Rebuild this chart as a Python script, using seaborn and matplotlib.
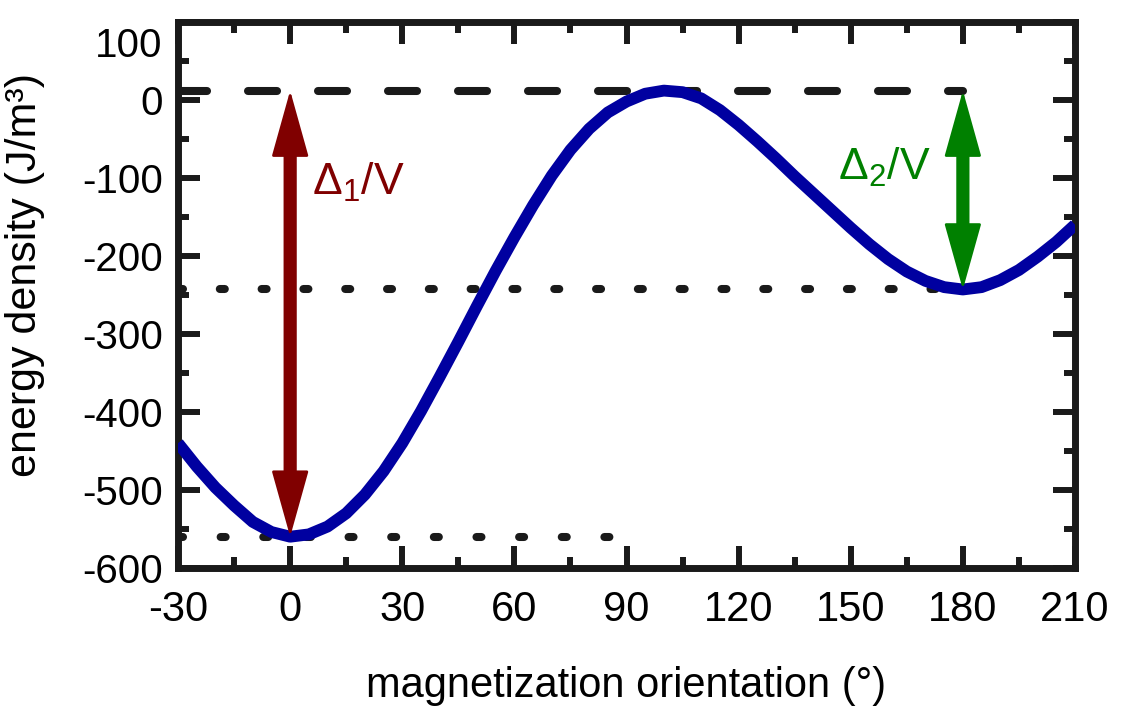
import matplotlib
matplotlib.use('Agg')
import matplotlib.pyplot as plt
import matplotlib.transforms as mtransforms
from matplotlib.patches import FancyArrowPatch
from matplotlib.ticker import MultipleLocator
import pandas as pd
import seaborn as sns

# energy density every 5 degrees
angle = list(range(-30, 215, 5))
energy = [-440, -470, -497, -520, -541, -554, -560, -557, -547, -530,
          -506, -476, -440, -399, -355, -310, -264, -219, -176, -135,
          -97, -64, -37, -16, -2, 8, 12, 10, 2, -13,
          -32, -53, -75, -98, -120, -142, -164, -185, -204, -220,
          -232, -240, -243, -240, -231, -218, -201, -182, -160]

# reference levels
barrier_top = 12
second_min = -243
global_min = -560
min1_angle = 0
min2_angle = 180
line_start = -30
low_dots_end = 87

xticks = list(range(-30, 211, 30))
yticks = list(range(-600, 101, 100))

sns.set_theme(style='ticks')
plt.rcParams['font.family'] = ['Liberation Sans', 'DejaVu Sans']
plt.rcParams['mathtext.fontset'] = 'custom'
plt.rcParams['mathtext.rm'] = 'Liberation Sans'
plt.rcParams['mathtext.default'] = 'regular'
plt.rcParams['lines.scale_dashes'] = False
plt.rcParams['axes.unicode_minus'] = False
for key in ['text.color', 'axes.labelcolor', 'xtick.color', 'ytick.color']:
    plt.rcParams[key] = 'black'

fig = plt.figure(figsize=(11.24, 7.09), dpi=100)
ax = fig.add_axes([0.1584, 0.199, 0.798, 0.770])

df = pd.DataFrame({'angle': angle, 'energy': energy})
sns.lineplot(data=df, x='angle', y='energy', color='#0000a0', lw=8.5, ax=ax,
             zorder=3)
ax.lines[0].set_solid_joinstyle('round')
ax.lines[0].set_solid_capstyle('butt')

# dashed / dotted guide lines
ax.plot([line_start, min2_angle], [barrier_top, barrier_top], color='k',
        lw=5.8, linestyle=(0, (20.9, 29.5)), dash_capstyle='round', zorder=2)
ax.plot([line_start, min2_angle], [second_min, second_min], color='k',
        lw=5.8, linestyle=(0, (3.6, 26.5)), dash_capstyle='round', zorder=2)
ax.plot([line_start, low_dots_end], [global_min, global_min], color='k',
        lw=5.8, linestyle=(0, (3.6, 27.1)), dash_capstyle='round', zorder=2)

# double arrows for the barriers: heads + thick shaft
head = '<|-|>,head_length=43,head_width=12'
for xpos, ylow, col in [(min1_angle, global_min, '#800000'),
                        (min2_angle, second_min, '#008000')]:
    heads = FancyArrowPatch((xpos, ylow), (xpos, barrier_top), arrowstyle=head,
                            mutation_scale=1, color=col, lw=2, shrinkA=0,
                            shrinkB=0, joinstyle='round', zorder=4)
    ax.add_patch(heads)
    shaft = FancyArrowPatch((xpos, ylow), (xpos, barrier_top), arrowstyle='-',
                            color=col, lw=9.5, shrinkA=40, shrinkB=40,
                            capstyle='butt', zorder=4)
    ax.add_patch(shaft)

ax.text(5.8, -122, 'Δ$_1$/V', color='#800000', fontsize=32, zorder=5)
ax.text(146.6, -103, 'Δ$_2$/V', color='#008000', fontsize=32, zorder=5)

ax.set_xlim(-30, 210)
ax.set_ylim(-600, 100)
ax.set_xticks(xticks)
ax.set_yticks(yticks)
ax.xaxis.set_minor_locator(MultipleLocator(15))
ax.yaxis.set_minor_locator(MultipleLocator(50))
ax.tick_params(which='both', direction='in', top=True, right=True,
               width=4.3, color='k')
ax.tick_params(which='major', length=16)
ax.tick_params(which='minor', length=8)
ax.tick_params(axis='y', labelsize=29, pad=11)
ax.tick_params(axis='x', labelsize=30, pad=16)
for sp in ax.spines.values():
    sp.set_linewidth(5)
    sp.set_color('k')

# top y label sits a bit lower in the original
fig.canvas.draw()
top_lab = ax.get_yticklabels()[-1]
top_lab.set_transform(top_lab.get_transform() +
                      mtransforms.ScaledTranslation(0, -0.2, fig.dpi_scale_trans))

ax.set_xlabel('magnetization orientation (°)', fontsize=30, labelpad=26)
ax.set_ylabel('energy density (J/m³)', fontsize=31)
ax.yaxis.set_label_coords(-0.148, 0.537)

fig.savefig('out.png', dpi=100)
